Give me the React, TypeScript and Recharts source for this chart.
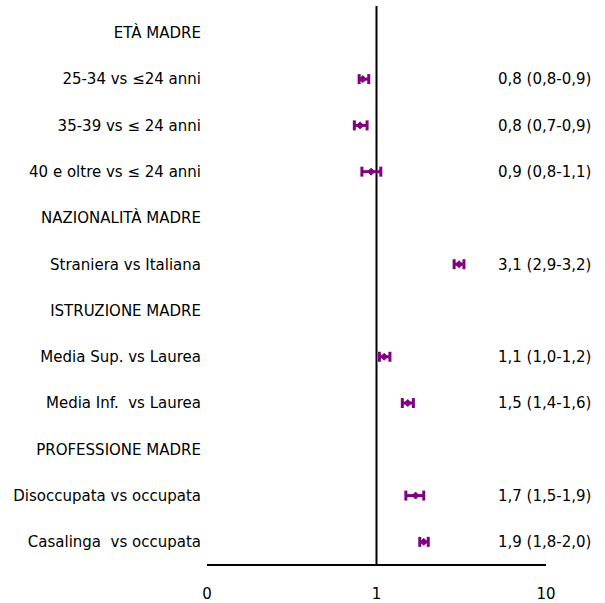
import { ScatterChart, Scatter, XAxis, YAxis, ErrorBar, ReferenceLine } from 'recharts'

const rowLabels = [
  'ETÀ MADRE',
  '25-34 vs ≤24 anni',
  '35-39 vs ≤ 24 anni',
  '40 e oltre vs ≤ 24 anni',
  'NAZIONALITÀ MADRE',
  'Straniera vs Italiana',
  'ISTRUZIONE MADRE',
  'Media Sup. vs Laurea',
  'Media Inf.\u00A0 vs Laurea',
  'PROFESSIONE MADRE',
  'Disoccupata vs occupata',
  'Casalinga\u00A0 vs occupata',
]

// odds ratios (null = section heading)
const orValues = [null, 0.83, 0.8, 0.93, null, 3.07, null, 1.11, 1.53, null, 1.7, 1.9]
const ciLow = [null, 0.79, 0.74, 0.82, null, 2.87, null, 1.04, 1.42, null, 1.49, 1.8]
const ciHigh = [null, 0.9, 0.88, 1.06, null, 3.28, null, 1.2, 1.65, null, 1.9, 2.02]
const ciText = [
  '',
  '0,8 (0,8-0,9)',
  '0,8 (0,7-0,9)',
  '0,9 (0,8-1,1)',
  '',
  '3,1 (2,9-3,2)',
  '',
  '1,1 (1,0-1,2)',
  '1,5 (1,4-1,6)',
  '',
  '1,7 (1,5-1,9)',
  '1,9 (1,8-2,0)',
]
const xTicks = [0.1, 1, 10]

const PURPLE = '#800080'
const FONT = '"DejaVu Sans", Verdana, sans-serif'
const FS = 15
const Y_DOMAIN = [-0.58, 11.5]

const rows = rowLabels.map((_, i) => i)
const points = orValues
  .map((v, i) =>
    v === null
      ? null
      : { row: i, or: v, err: [v - (ciLow[i] as number), (ciHigh[i] as number) - v] }
  )
  .filter(Boolean) as { row: number; or: number; err: number[] }[]

function Diamond(props: any) {
  const { cx, cy } = props
  if (cx == null || cy == null) return null
  const r = 3.5
  return (
    <polygon
      points={`${cx},${cy - r} ${cx + r},${cy} ${cx},${cy + r} ${cx - r},${cy}`}
      fill={PURPLE}
      stroke={PURPLE}
      strokeWidth={1}
    />
  )
}

const Nothing = () => null

function CiTick(props: any) {
  const { x, y, payload } = props
  const label = ciText[payload.value] ?? ''
  if (!label) return null
  return (
    <text x={x - 56} y={y} dy="0.355em" textAnchor="start" fontSize={FS} fill="#000" fontFamily={FONT}>
      {label}
    </text>
  )
}

export default function App() {
  return (
    <div style={{ position: 'absolute', left: 0, top: 0, background: '#fff' }}>
      <ScatterChart width={605} height={603} margin={{ top: 6, right: 0, bottom: 8, left: 0 }}>
        <XAxis
          type="number"
          dataKey="or"
          scale="log"
          domain={[0.1, 10]}
          ticks={xTicks}
          allowDataOverflow
          tickFormatter={(v: number) => (v < 1 ? '0' : String(v))}
          tickLine={false}
          axisLine={{ stroke: '#000', strokeWidth: 2 }}
          tick={{ fontSize: FS, fill: '#000', fontFamily: FONT }}
          tickMargin={17}
          height={30}
        />
        <YAxis
          yAxisId="left"
          type="number"
          dataKey="row"
          domain={Y_DOMAIN}
          allowDataOverflow
          reversed
          ticks={rows}
          interval={0}
          tickFormatter={(v: number) => rowLabels[v] ?? ''}
          tickLine={false}
          axisLine={false}
          width={207}
          tick={{ fontSize: FS, fill: '#000', fontFamily: FONT }}
          tickMargin={0}
        />
        <YAxis
          yAxisId="right"
          orientation="right"
          type="number"
          dataKey="row"
          domain={Y_DOMAIN}
          allowDataOverflow
          reversed
          ticks={rows}
          interval={0}
          tickLine={false}
          axisLine={false}
          width={59}
          tick={<CiTick />}
        />
        <ReferenceLine x={1} yAxisId="left" stroke="#000" strokeWidth={2} />
        <Scatter
          data={points}
          yAxisId="right"
          shape={<Nothing />}
          isAnimationActive={false}
        />
        <Scatter
          data={points}
          yAxisId="left"
          shape={<Diamond />}
          fill={PURPLE}
          isAnimationActive={false}
        >
          <ErrorBar
            dataKey="err"
            direction="x"
            width={5}
            stroke={PURPLE}
            strokeWidth={3}
            isAnimationActive={false}
          />
        </Scatter>
      </ScatterChart>
    </div>
  )
}
